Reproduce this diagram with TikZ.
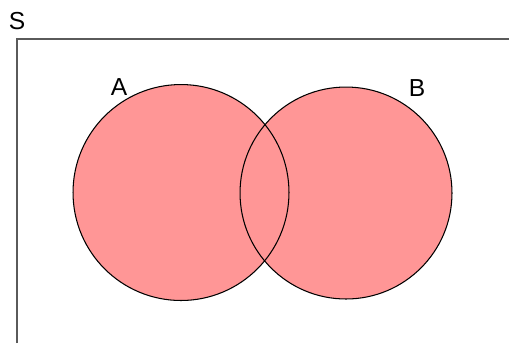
\documentclass[tikz,border=0pt]{standalone}
\usepackage{fontspec}
\setmainfont{Liberation Sans}
\usepackage{xcolor}
\usepackage{tikz}
\usetikzlibrary{backgrounds}
\definecolor{setpink}{RGB}{255,150,150}
\definecolor{framegray}{RGB}{90,90,90}

\begin{document}
\begin{tikzpicture}[
    x=0.02cm, y=-0.02cm,
    vennset/.style={draw, circle, inner sep=0pt, line width=0.6pt},
    setlabel/.style={font=\fontsize{14}{16}\selectfont, inner sep=0pt}
]
\useasboundingbox (0,0) rectangle (509,343);

% universe frame
\draw[framegray, line width=0.75pt] (17,343) |- (509,39);
\node[setlabel] (lblS) at (17,21) {S};

% the two sets
\node[vennset, minimum size=4.32cm] (A) at (181,192.5) {};
\node[vennset, minimum size=4.24cm] (B) at (346,193) {};
\begin{scope}[on background layer]
  \fill[setpink] (A.center) circle[radius=2.16cm];
  \fill[setpink] (B.center) circle[radius=2.12cm];
\end{scope}

\node[setlabel] (lblA) at (119,87) {A};
\node[setlabel] (lblB) at (417,88) {B};

\end{tikzpicture}
\end{document}
